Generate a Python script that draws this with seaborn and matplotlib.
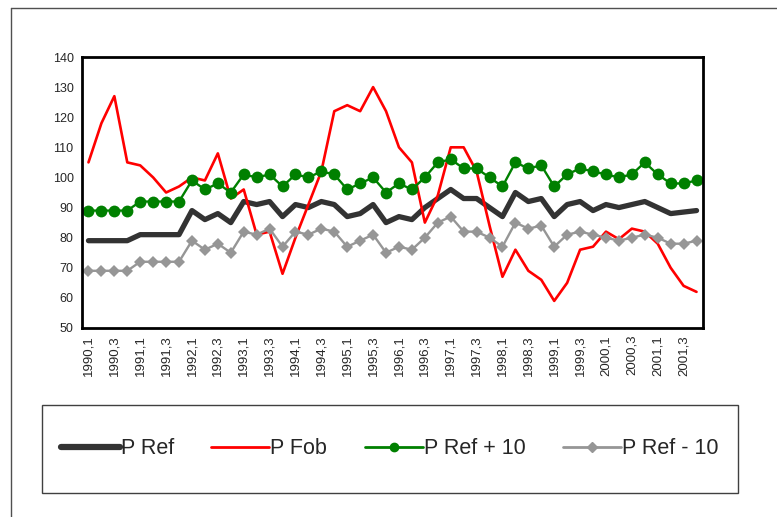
import numpy as np
import matplotlib
matplotlib.use("Agg")
import matplotlib.pyplot as plt
from matplotlib.lines import Line2D
from matplotlib.patches import Rectangle
import seaborn as sns

# --- Dados (trimestres 1990,1 a 2001,4) ---
anos = list(range(1990, 2002))
trimestres = [f"{a},{t}" for a in anos for t in (1, 2, 3, 4)]

p_ref = [79, 79, 79, 79, 81, 81, 81, 81, 89, 86, 88, 85,
         92, 91, 92, 87, 91, 90, 92, 91, 87, 88, 91, 85,
         87, 86, 90, 93, 96, 93, 93, 90, 87, 95, 92, 93,
         87, 91, 92, 89, 91, 90, 91, 92, 90, 88, 88.5, 89]

p_fob = [105, 118, 127, 105, 104, 100, 95, 97, 100, 99, 108, 93,
         96, 81, 82, 68, 80, 91, 102, 122, 124, 122, 130, 122,
         110, 105, 85, 94, 110, 110, 102, 84, 67, 76, 69, 66,
         59, 65, 76, 77, 82, 79.5, 83, 82, 78, 70, 64, 62]

p_ref_mais10 = [89, 89, 89, 89, 92, 92, 92, 92, 99, 96, 98, 95,
                101, 100, 101, 97, 101, 100, 102, 101, 96, 98, 100, 95,
                98, 96, 100, 105, 106, 103, 103, 100, 97, 105, 103, 104,
                97, 101, 103, 102, 101, 100, 101, 105, 101, 98, 98, 99]

p_ref_menos10 = [69, 69, 69, 69, 72, 72, 72, 72, 79, 76, 78, 75,
                 82, 81, 83, 77, 82, 81, 83, 82, 77, 79, 81, 75,
                 77, 76, 80, 85, 87, 82, 82, 80, 77, 85, 83, 84,
                 77, 81, 82, 81, 80, 79, 80, 81, 80, 78, 78, 79]

# --- Estilo ---
sns.set_style("white")
plt.rcParams['font.family'] = ['Liberation Sans', 'DejaVu Sans']

COR_REF = '#333333'
COR_FOB = '#FF0000'
COR_MAIS = '#008000'
COR_MENOS = '#969696'

fig = plt.figure(figsize=(7.77, 5.17), dpi=100)
ax = fig.add_axes([82 / 777, 1 - 328 / 517, (703 - 82) / 777, (328 - 57) / 517])

pos = np.arange(len(trimestres))

sns.lineplot(x=pos, y=p_ref, ax=ax, color=COR_REF, linewidth=3.8, label='P Ref')
sns.lineplot(x=pos, y=p_fob, ax=ax, color=COR_FOB, linewidth=1.9, label='P Fob')
sns.lineplot(x=pos, y=p_ref_mais10, ax=ax, color=COR_MAIS, linewidth=1.7,
             marker='o', markersize=8.5, markeredgewidth=0, label='P Ref + 10')
sns.lineplot(x=pos, y=p_ref_menos10, ax=ax, color=COR_MENOS, linewidth=1.7,
             marker='D', markersize=6.5, markeredgewidth=0, label='P Ref - 10')
ax.get_legend().remove()

# --- Eixos ---
ax.set_xlim(-0.5, len(trimestres) - 0.5)
ax.set_ylim(50, 140)
ax.set_yticks(np.arange(50, 141, 10))
ax.set_xticks(pos[::2])
ax.set_xticklabels(trimestres[::2], rotation=90, fontsize=9.5)
ax.set_xticks(np.arange(-0.5, len(trimestres), 1), minor=True)
ax.tick_params(axis='x', which='major', length=0, pad=5)
ax.tick_params(axis='x', which='minor', length=4, width=1, color='black', direction='out')
ax.tick_params(axis='y', length=4, width=1, color='black', direction='out', labelsize=9, pad=2)
ax.set_xlabel('')
ax.set_ylabel('')
for sp in ax.spines.values():
    sp.set_color('black')
    sp.set_linewidth(2)

# --- Legenda (caixa desenhada à parte) ---
caixa = (42 / 777, 1 - 493 / 517, 696 / 777, 88 / 517)
fig.add_artist(Rectangle(caixa[:2], caixa[2], caixa[3], transform=fig.transFigure,
                         facecolor='white', edgecolor='#404040', linewidth=1))

handles = [
    Line2D([], [], color=COR_REF, linewidth=4.5),
    Line2D([], [], color=COR_FOB, linewidth=2),
    Line2D([], [], color=COR_MAIS, linewidth=2, marker='o', markersize=6),
    Line2D([], [], color=COR_MENOS, linewidth=2, marker='D', markersize=5),
]
fig.legend(handles, ['P Ref', 'P Fob', 'P Ref + 10', 'P Ref - 10'],
           loc='center', ncol=4, mode='expand', fontsize=15.5,
           bbox_to_anchor=caixa,
           handlelength=2.7, handletextpad=0.05, borderaxespad=0,
           borderpad=0.9, frameon=False)

# --- Moldura externa ---
fig.add_artist(Line2D([10.5 / 777, 10.5 / 777], [0, 1 - 7.5 / 517], color='#505050', linewidth=1))
fig.add_artist(Line2D([10.5 / 777, 1], [1 - 7.5 / 517, 1 - 7.5 / 517], color='#505050', linewidth=1))

fig.savefig('out.png', dpi=100)
